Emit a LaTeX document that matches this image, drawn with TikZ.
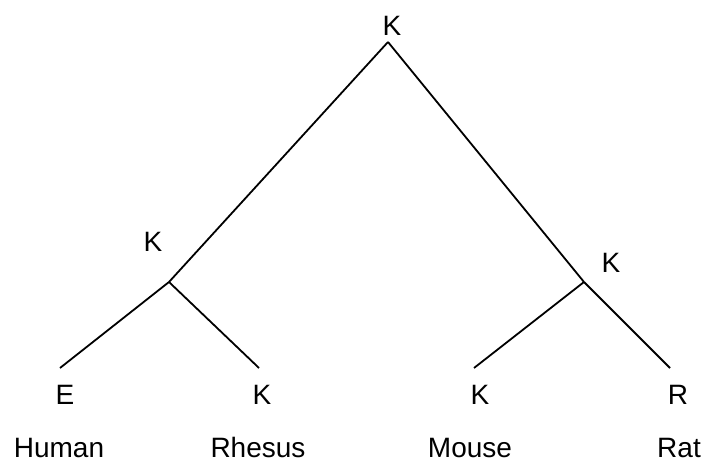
\documentclass[tikz,border=0pt]{standalone}
\usepackage{fontspec}
\setmainfont{Liberation Sans}
\usepackage{tikz}
\usetikzlibrary{positioning}

\begin{document}
\begin{tikzpicture}[x=0.5pt, y=-0.5pt,
    branch/.style={line width=0.9pt},
    lbl/.style={inner sep=0pt, anchor=base, font=\fontsize{14}{16}\selectfont}]
  \useasboundingbox (0, 0) rectangle (708, 466);

  \coordinate (root) at (388, 42);
  \coordinate (primates) at (169, 282);
  \coordinate (rodents) at (584, 282);
  \coordinate (human) at (60, 368);
  \coordinate (rhesus) at (259, 368);
  \coordinate (mouse) at (474, 368);
  \coordinate (rat) at (670, 368);

  \draw[branch] (root) -- (primates);
  \draw[branch] (root) -- (rodents);
  \draw[branch] (primates) -- (human);
  \draw[branch] (primates) -- (rhesus);
  \draw[branch] (rodents) -- (mouse);
  \draw[branch] (rodents) -- (rat);

  \node[lbl] (kroot) at (392, 35)  {K};
  \node[lbl] (kprim) at (153, 251) {K};
  \node[lbl] (krod)  at (611, 272) {K};
  \node[lbl] (shuman)  at (65, 404)  {E};
  \node[lbl] (srhesus) at (262, 404) {K};
  \node[lbl] (smouse)  at (480, 404) {K};
  \node[lbl] (srat)    at (678, 404) {R};

  \node[lbl] (nhuman)  at (59, 457)  {Human};
  \node[lbl] (nrhesus) at (258, 457) {Rhesus};
  \node[lbl] (nmouse)  at (470, 457) {Mouse};
  \node[lbl] (nrat)    at (679, 457) {Rat};
\end{tikzpicture}
\end{document}
